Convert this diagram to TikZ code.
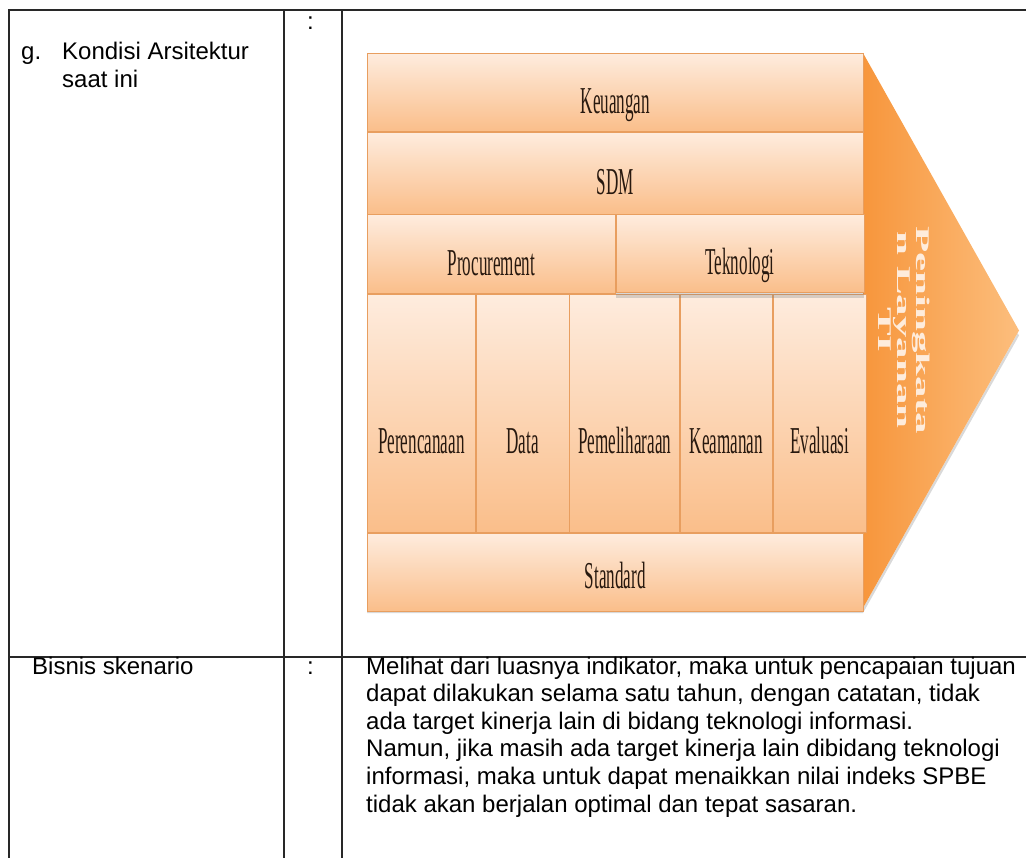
\documentclass[tikz,border=0pt]{standalone}
\usepackage{fontspec}
\setmainfont{Liberation Sans}
\newfontfamily\cellfont[FakeStretch=0.45]{Liberation Serif}
\newfontfamily\tipfont{Liberation Serif}
\usetikzlibrary{shadows,positioning}
\definecolor{celltop}{RGB}{254,236,222}
\definecolor{cellbot}{RGB}{250,190,138}
\definecolor{cellline}{RGB}{232,158,95}
\definecolor{celltext}{RGB}{40,25,15}
\definecolor{tipdark}{RGB}{247,150,60}
\definecolor{tiplight}{RGB}{252,190,125}
\definecolor{tiptext}{RGB}{254,236,220}
\definecolor{tabline}{RGB}{40,40,40}

\begin{document}
\begin{tikzpicture}[x=1pt,y=-1pt,
  cell/.style={draw=cellline, line width=0.7pt, top color=celltop, bottom color=cellbot,
    inner sep=0pt, anchor=north west, text=celltext, text height=42pt, text depth=0pt,
    font=\cellfont\fontsize{38}{40}\selectfont},
  column/.style={cell, minimum height=238pt, text height=80pt},
  tabtext/.style={anchor=base west, inner sep=0pt, font=\fontsize{24}{27.6}\selectfont},
  grid/.style={draw=tabline, line width=1.4pt}]

\useasboundingbox (0,0) rectangle (1026,858);

	% table
	\draw[grid] (8,10) -- (1026,10);
	\draw[grid] (8,657) -- (1026,657);
	\draw[grid] (9,10) -- (9,858);
	\draw[grid] (284,10) -- (284,858);
	\draw[grid] (342,10) -- (342,858);

	\node[tabtext] (g) at (21,60) {g.};
	\node[tabtext] (kondisi) at (62,60) {Kondisi Arsitektur};
	\node[tabtext] (saat) at (62,88) {saat ini};
	\node[tabtext] (c1) at (307,30) {:};

	\node[tabtext] (bisnis) at (32,674) {Bisnis skenario};
	\node[tabtext] (c2) at (307,674) {:};
	\node[tabtext] (p1) at (366,674) {Melihat dari luasnya indikator, maka untuk pencapaian tujuan};
	\node[tabtext] (p2) at (366,701.6) {dapat dilakukan selama satu tahun, dengan catatan, tidak};
	\node[tabtext] (p3) at (366,729.2) {ada target kinerja lain di bidang teknologi informasi.};
	\node[tabtext] (p4) at (366,756.8) {Namun, jika masih ada target kinerja lain dibidang teknologi};
	\node[tabtext] (p5) at (366,784.4) {informasi, maka untuk dapat menaikkan nilai indeks SPBE};
	\node[tabtext] (p6) at (366,812) {tidak akan berjalan optimal dan tepat sasaran.};

	% chevron
	\path[fill=white, drop shadow={opacity=0.3, shadow xshift=0pt, shadow yshift=-5pt}]
	  (367,53) -- (863,53) -- (1019,330.5) -- (863,608) -- (367,608) -- cycle;
	\path[left color=tipdark, right color=tiplight] (863,53) -- (1019,330.5) -- (863,608) -- cycle;

	\node[cell, minimum width=496pt, minimum height=78pt] (keu) at (367,53) {Keuangan};
	\node[cell, minimum width=496pt, minimum height=82pt] (sdm) at (keu.south west) {SDM};
	\node[cell, minimum width=248pt, minimum height=79pt] (proc) at (sdm.south west) {Procurement};

	\node[column, minimum width=108pt] (per) at (proc.south west) {Perencanaan};
	\node[column, minimum width=93pt, right=0pt of per] (dat) {Data};
	\node[column, minimum width=110pt, right=0pt of dat] (pem) {Pemeliharaan};
	\node[column, minimum width=92pt, right=0pt of pem] (kea) {Keamanan};
	\node[column, minimum width=93pt, right=0pt of kea] (eva) {Evaluasi};

	\node[cell, minimum width=496pt, minimum height=78pt, text height=32pt] (std) at (per.south west) {Standard};

	\node[cell, minimum width=248pt, minimum height=78pt,
	  drop shadow={opacity=0.3, shadow xshift=0pt, shadow yshift=-5pt}] (tek) at (proc.north east) {Teknologi};

	\node[rotate=-90, text=tiptext, font=\tipfont\bfseries\fontsize{43}{42}\selectfont] (tip) at (901,330)
	  {\scalebox{1}[0.45]{\begin{tabular}{@{}c@{}}Peningkata\\n Layanan\\TI\end{tabular}}};

\end{tikzpicture}
\end{document}
